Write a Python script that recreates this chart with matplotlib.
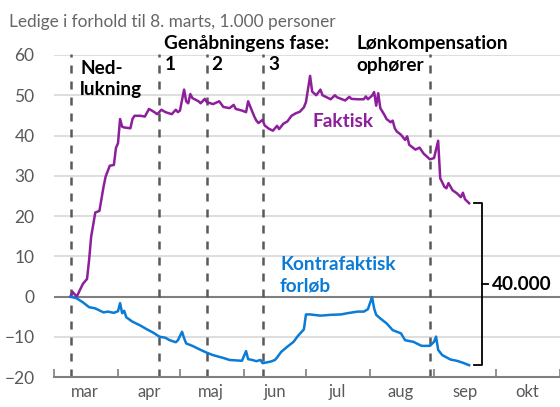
import pandas as pd
import matplotlib.pyplot as plt

plt.rcParams['font.family'] = ['Lato', 'DejaVu Sans']

# Faktisk ledighed, ift. 8. marts (1.000 personer)
faktisk_dates = ['03-09', '03-10', '03-12', '03-15', '03-17', '03-18', '03-19', '03-21', '03-23',
                 '03-25', '03-26', '03-28', '03-30', '03-31', '04-01', '04-02', '04-03', '04-04',
                 '04-07', '04-08', '04-09', '04-12', '04-14', '04-16', '04-18', '04-20', '04-22',
                 '04-24', '04-27', '04-29', '04-30', '05-01', '05-03', '05-04', '05-05', '05-06',
                 '05-07', '05-10', '05-11', '05-13', '05-14', '05-17', '05-20', '05-22', '05-25',
                 '05-27', '05-28', '05-31', '06-02', '06-03', '06-04', '06-06', '06-07', '06-08',
                 '06-10', '06-11', '06-13', '06-15', '06-17', '06-18', '06-20', '06-22', '06-24',
                 '06-26', '06-28', '06-30', '07-01', '07-03', '07-04', '07-06', '07-08', '07-09',
                 '07-13', '07-15', '07-16', '07-20', '07-22', '07-23', '07-26', '07-29', '07-30',
                 '07-31', '08-02', '08-03', '08-04', '08-05', '08-06', '08-08', '08-09', '08-11',
                 '08-12', '08-13', '08-14', '08-16', '08-18', '08-19', '08-20', '08-23', '08-25',
                 '08-27', '08-30', '09-01', '09-03', '09-04', '09-06', '09-07', '09-08', '09-10',
                 '09-12', '09-14', '09-15', '09-16', '09-18']
faktisk_values = [0.0, 1.2, 0.0, 3.2, 4.4, 9.1, 14.9, 20.9, 21.3,
                  27.3, 29.8, 32.5, 32.7, 36.9, 38.1, 44.1, 42.2, 42.0,
                  41.8, 44.1, 44.9, 44.9, 44.7, 46.6, 46.0, 45.3, 46.4,
                  45.8, 45.3, 46.4, 45.8, 46.2, 51.4, 48.5, 48.0, 50.3,
                  49.3, 48.5, 48.0, 49.1, 48.3, 47.8, 48.5, 47.1, 46.8,
                  47.6, 46.6, 46.2, 45.8, 48.5, 47.2, 44.7, 43.7, 43.1,
                  43.9, 42.5, 41.7, 41.2, 42.4, 41.6, 42.9, 43.5, 44.9,
                  45.5, 45.9, 47.0, 48.3, 54.8, 50.9, 50.0, 51.4, 50.0,
                  49.0, 50.0, 49.5, 48.7, 49.6, 49.1, 49.0, 49.0, 49.7,
                  49.0, 49.9, 50.8, 47.4, 50.5, 46.8, 45.1, 44.1, 43.3,
                  43.7, 41.8, 41.0, 40.2, 38.9, 39.8, 37.7, 36.5, 37.0,
                  35.5, 34.1, 34.4, 38.7, 29.4, 27.3, 26.9, 28.2, 26.4,
                  25.7, 24.7, 25.8, 24.2, 23.2]

# Kontrafaktisk forløb
kontra_dates = ['03-09', '03-12', '03-15', '03-18', '03-21', '03-25', '03-27', '03-30', '04-01',
                '04-02', '04-03', '04-04', '04-05', '04-08', '04-12', '04-15', '04-18', '04-21',
                '04-24', '04-26', '04-29', '04-30', '05-02', '05-03', '05-04', '05-07', '05-11',
                '05-14', '05-17', '05-22', '05-25', '05-31', '06-02', '06-03', '06-05', '06-07',
                '06-09', '06-10', '06-14', '06-16', '06-17', '06-19', '06-22', '06-25', '06-27',
                '06-30', '07-01', '07-03', '07-08', '07-13', '07-18', '07-21', '07-26', '07-29',
                '07-31', '08-02', '08-03', '08-04', '08-06', '08-09', '08-12', '08-16', '08-18',
                '08-22', '08-26', '08-30', '09-01', '09-02', '09-03', '09-05', '09-09', '09-12',
                '09-15', '09-18']
kontra_values = [0.0, -0.4, -1.4, -2.6, -2.9, -3.9, -3.7, -4.0, -3.6,
                 -1.6, -4.1, -3.5, -5.1, -6.2, -7.2, -8.1, -8.9, -9.9,
                 -10.2, -10.8, -11.3, -10.8, -8.7, -10.3, -11.6, -12.2, -13.2,
                 -13.9, -14.5, -15.2, -15.7, -15.9, -13.5, -15.5, -15.7, -16.0,
                 -15.7, -16.5, -16.1, -15.7, -15.1, -13.7, -12.4, -11.2, -9.8,
                 -8.1, -4.4, -4.4, -4.7, -4.5, -4.4, -4.1, -3.7, -3.7,
                 -3.1, -0.1, -2.9, -4.5, -5.4, -6.6, -8.3, -9.1, -10.8,
                 -11.2, -12.2, -12.2, -11.2, -9.9, -13.2, -14.5, -15.6, -15.9,
                 -16.4, -17.0]

# nedlukning, fase 1, 2, 3 og lønkompensation ophører
event_dates = ['03-09', '04-21', '05-14', '06-10', '08-30']
month_labels = ['mar', 'apr', 'maj', 'jun', 'jul', 'aug', 'sep', 'okt']

purple = '#8e1f9c'
blue = '#0a7bd6'
grey = '#595959'

def to_dates(md):
    return pd.to_datetime(['2020-' + d for d in md])

fdates = to_dates(faktisk_dates)
kdates = to_dates(kontra_dates)

fig = plt.figure(figsize=(5.6, 4.07), dpi=100)
ax = fig.add_axes([0.0964, 0.073, 0.9036, 0.792])

for v in range(-10, 61, 10):
    ax.axhline(v, color='#d4d4d4', lw=1.1, zorder=0)
ax.axhline(0, color='#7f7f7f', lw=1.5, zorder=1)

for d in to_dates(event_dates):
    ax.plot([d, d], [-20, 60.3], color=grey, lw=1.8, ls=(0, (3.2, 3.2)), zorder=2, clip_on=False)

ax.plot(fdates, faktisk_values, color=purple, lw=1.8, zorder=3)
ax.plot(kdates, kontra_values, color=blue, lw=1.8, zorder=3)

# bracket for afstanden mellem de to kurver
end_top = faktisk_values[-1]
end_bot = kontra_values[-1]
bx = pd.Timestamp('2020-09-24')
bx0 = pd.Timestamp('2020-09-20 12:00')
bx1 = pd.Timestamp('2020-09-27')
ax.plot([bx0, bx, bx, bx0], [end_top, end_top, end_bot, end_bot], color='black', lw=1.3, zorder=3)
mid = (end_top + end_bot) / 2
ax.plot([bx, bx1], [mid, mid], color='black', lw=1.3)

# akser
for s in ['left', 'right', 'top']:
    ax.spines[s].set_visible(False)
ax.spines['bottom'].set_color('#7f7f7f')
ax.spines['bottom'].set_linewidth(1.5)

month_starts = pd.date_range('2020-03-01', periods=9, freq='MS')
ax.set_xticks(month_starts)
ax.set_xticklabels([''] * len(month_starts))
ax.set_xticks(month_starts[:-1] + pd.Timedelta(days=15), minor=True)
ax.set_xticklabels(month_labels, minor=True)
ax.tick_params(axis='x', which='major', direction='in', length=6, width=1.2, color='#7f7f7f')
ax.tick_params(axis='x', which='minor', length=0, pad=5, labelsize=12, labelcolor=grey)

ax.set_yticks(range(-20, 61, 10))
ax.tick_params(axis='y', length=0, pad=14, labelsize=12.5, labelcolor=grey)

ax.set_xlim(pd.Timestamp('2020-03-01'), pd.Timestamp('2020-11-01'))
ax.set_ylim(-20, 60)

fig.text(9 / 560, 1 - 22 / 407, 'Ledige i forhold til 8. marts, 1.000 personer',
         color='#666666', fontsize=12.4, va='center', ha='left')

bold = dict(fontweight='bold', fontsize=13.7, va='center', ha='left')
def ftext(x, y, s, **kw):
    fig.text(x / 560, 1 - y / 407, s, **kw)

ftext(164, 43, 'Genåbningens fase:', color='black', **bold)
ftext(356, 43, 'Lønkompensation', color='black', **bold)
ftext(356, 65, 'ophører', color='black', **bold)
ftext(80, 68, 'Ned-', color='black', **bold)
ftext(80, 89, 'lukning', color='black', **bold)
ftext(165, 65, '1', color='black', **bold)
ftext(211, 65, '2', color='black', **bold)
ftext(268, 65, '3', color='black', **bold)
ftext(313, 122, 'Faktisk', color=purple, **bold)
ftext(280, 265, 'Kontrafaktisk', color=blue, **bold)
ftext(280, 286, 'forløb', color=blue, **bold)
ftext(492, 284, '40.000', color='black', **bold)

fig.savefig('out.png', dpi=100)
